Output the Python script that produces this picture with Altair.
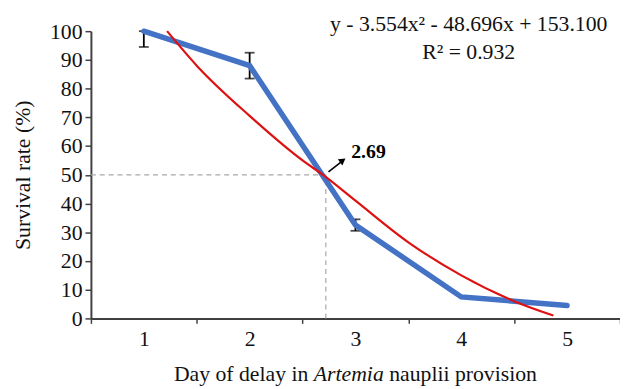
import altair as alt
import pandas as pd

# --- data ---
days = [1, 2, 3, 4, 5]
survival = [100, 88, 32.5, 7.5, 4.5]
err_low = [94.5, 83.5, 30.5, None, None]
err_high = [100, 92.5, 34.5, None, None]

fit_x = [1.22, 1.5, 2.0, 2.5, 2.7, 3.0, 3.5, 4.0, 4.5, 4.87]
fit_y = [100, 88, 70.5, 55, 49.8, 41, 26.5, 15, 6, 1]

lc50_x = 2.72
lc50_y = 50
lc50_label = "2.69"
equation = "y - 3.554x\u00b2 - 48.696x + 153.100"
r2_text = "R\u00b2 = 0.932"

x_ticks = [0.5, 1, 1.5, 2, 2.5, 3, 3.5, 4, 4.5, 5, 5.5]
y_ticks = list(range(0, 101, 10))

FONT = "Liberation Serif"
AX = "#404040"
BLUE = "#4472C4"
RED = "#DD1111"

W, H = 536, 291

df = pd.DataFrame({"day": days, "surv": survival, "lo": err_low, "hi": err_high})
df_err = df.dropna()
df_fit = pd.DataFrame({"x": fit_x, "y": fit_y})

xscale = alt.Scale(domain=[0.5, 5.5], nice=False, zero=False)
yscale = alt.Scale(domain=[0, 100], nice=False)

xaxis = alt.Axis(
    values=x_ticks, format=".1f",
    labelExpr="datum.value % 1 === 0 ? format(datum.value, 'd') : ''",
    tickOpacity={"condition": {"test": "datum.value % 1 === 0", "value": 0}, "value": 1},
    title=None, grid=False, tickSize=5, tickColor=AX, tickWidth=1.5,
    domainColor=AX, domainWidth=2, labelFont=FONT, labelFontSize=22,
    labelColor="#111111", labelPadding=5,
)
yaxis = alt.Axis(
    values=y_ticks, title="Survival rate (%)", grid=False, tickSize=6,
    tickColor=AX, tickWidth=1.5, domainColor=AX, domainWidth=2,
    labelFont=FONT, labelFontSize=22, labelColor="#111111", labelPadding=3,
    titleFont=FONT, titleFontSize=22, titleFontWeight="normal",
    titleColor="#111111", titlePadding=15,
)


def X(f):
    return alt.X(f, type="quantitative", scale=xscale, axis=xaxis)


def Y(f):
    return alt.Y(f, type="quantitative", scale=yscale, axis=yaxis)


# dashed guide lines
guide_df = pd.DataFrame({
    "x": [0.5, lc50_x], "x2": [lc50_x, lc50_x],
    "y": [lc50_y, 0], "y2": [lc50_y, lc50_y],
})
guides = alt.Chart(guide_df).mark_rule(
    color="#A8A8A8", strokeDash=[5, 4], strokeWidth=1.2
).encode(x=X("x"), x2="x2:Q", y=Y("y"), y2="y2:Q")

err_rule = alt.Chart(df_err).mark_rule(color="black", strokeWidth=1.8).encode(
    x=X("day"), y=Y("lo"), y2="hi:Q"
)
cap_df = pd.DataFrame({
    "day": list(df_err["day"]) * 2,
    "v": list(df_err["lo"]) + list(df_err["hi"]),
})
caps = alt.Chart(cap_df).mark_tick(
    color="black", orient="horizontal", size=10, thickness=1.8
).encode(x=X("day"), y=Y("v"))

blue = alt.Chart(df).mark_line(
    color=BLUE, strokeWidth=5.5, strokeCap="round", strokeJoin="miter"
).encode(x=X("day"), y=Y("surv"))

red = alt.Chart(df_fit).mark_line(
    color=RED, strokeWidth=2.2, interpolate="monotone"
).encode(x=X("x"), y=Y("y"))

# arrow
arrow_df = pd.DataFrame({"x": [2.745], "y": [51], "x2": [2.875], "y2": [54.8]})
arrow_line = alt.Chart(arrow_df).mark_rule(color="black", strokeWidth=1.6).encode(
    x=X("x"), y=Y("y"), x2="x2:Q", y2="y2:Q"
)
head_df = pd.DataFrame({"x": [2.88], "y": [55.0]})
arrow_head = alt.Chart(head_df).mark_point(
    shape="triangle-up", filled=True, color="black", size=60, angle=54, opacity=1
).encode(x=X("x"), y=Y("y"))

lbl_df = pd.DataFrame({"x": [2.96], "y": [57.8], "t": [lc50_label]})
lbl = alt.Chart(lbl_df).mark_text(
    font=FONT, fontSize=20, fontWeight="bold", align="left", baseline="middle", color="black"
).encode(x=X("x"), y=Y("y"), text="t:N")

eq_df = pd.DataFrame({"x": [4.07, 4.07], "y": [102.3, 92.6], "t": [equation, r2_text]})
eq = alt.Chart(eq_df).mark_text(
    font=FONT, fontSize=22, align="center", baseline="middle", color="#111111"
).encode(x=X("x"), y=Y("y"), text="t:N")

# x-axis title with italic genus name
TS = 22
parts = ["Day of delay in", "Artemia", "nauplii provision"]
widths_em = [6.443, 3.222, 7.056]
total = sum(widths_em) * TS
start = W / 2 - total / 2
one = pd.DataFrame({"a": [0]})
title_layers = []
pos = start
for txt, wem, style, lead in zip(parts, widths_em, ["normal", "italic", "normal"], [0, 0, 0.25]):
    title_layers.append(
        alt.Chart(one).mark_text(
            text=txt, font=FONT, fontSize=TS, fontStyle=style, align="left",
            baseline="alphabetic", color="#111111"
        ).encode(x=alt.value(pos + lead * TS), y=alt.value(H + 63))
    )
    pos += wem * TS

chart = alt.layer(
    guides, err_rule, caps, blue, red, arrow_line, arrow_head, lbl, eq, *title_layers
).properties(
    width=W, height=H,
    autosize=alt.AutoSizeParams(type="none"),
    padding={"left": 84, "top": 21, "right": 0, "bottom": 67},
).configure_view(stroke=None)

chart.save("out.html", embed_options={"renderer": "svg", "actions": False})
